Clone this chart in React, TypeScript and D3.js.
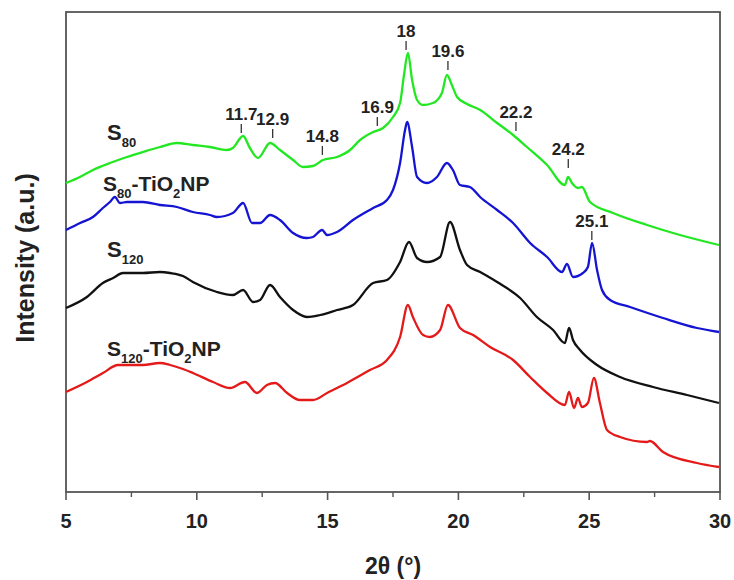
import React from "react";
import * as d3 from "d3";

// 2theta (deg) and intensity (a.u.)
const s80Theta = [5.0, 5.53, 6.03, 6.68, 7.33, 7.94, 8.59, 9.24, 9.85, 10.5, 11.15, 11.38, 11.77, 12.03, 12.34, 12.8, 13.18, 13.68, 14.06, 14.44, 14.82, 15.36, 15.86, 16.24, 16.74, 17.12, 17.5, 17.77, 17.92, 18.07, 18.23, 18.42, 18.65, 19.03, 19.37, 19.56, 19.75, 19.95, 20.33, 20.83, 21.48, 22.09, 22.62, 23.39, 24.07, 24.19, 24.34, 24.57, 24.72, 25.03, 25.91, 27.21, 28.47, 29.96];
const s80Int = [309, 315, 322, 329, 335, 340, 345, 349, 347, 345, 342, 344, 356, 344, 334, 349, 342, 332, 325, 326, 332, 335, 342, 352, 360, 364, 375, 389, 417, 439, 412, 392, 387, 389, 399, 417, 407, 395, 388, 382, 369, 357, 345, 327, 307, 315, 309, 304, 305, 290, 279, 267, 257, 247];

const s80TiTheta = [5.0, 5.54, 6.03, 6.41, 6.68, 6.87, 7.06, 7.33, 7.94, 8.59, 9.24, 9.85, 10.5, 10.77, 11.38, 11.77, 12.11, 12.42, 12.8, 13.18, 13.68, 14.21, 14.44, 14.79, 14.98, 15.36, 15.97, 16.74, 17.27, 17.5, 17.77, 17.96, 18.04, 18.23, 18.42, 18.8, 19.18, 19.56, 19.79, 20.06, 20.44, 20.83, 21.48, 22.09, 22.74, 23.39, 23.96, 24.15, 24.38, 24.76, 24.95, 25.11, 25.3, 25.49, 25.8, 26.56, 27.82, 29.12, 29.96];
const s80TiInt = [262, 269, 275, 284, 290, 295, 289, 290, 290, 287, 285, 280, 277, 275, 279, 289, 269, 269, 277, 272, 259, 254, 255, 262, 257, 260, 272, 284, 292, 302, 329, 362, 370, 345, 315, 309, 315, 329, 322, 307, 305, 295, 282, 269, 249, 235, 220, 228, 215, 219, 225, 249, 222, 202, 192, 185, 174, 164, 160];

const s120Theta = [5.0, 5.8, 6.41, 6.8, 7.18, 7.94, 8.59, 8.98, 9.47, 9.85, 10.77, 11.38, 11.77, 12.15, 12.42, 12.8, 13.18, 13.68, 14.21, 14.71, 15.36, 15.97, 16.74, 17.27, 17.77, 18.11, 18.42, 18.8, 19.3, 19.68, 20.06, 20.33, 20.83, 21.48, 22.36, 23.0, 23.62, 24.07, 24.23, 24.38, 24.65, 25.3, 26.18, 27.44, 28.74, 29.96];
const s120Int = [184, 195, 209, 214, 219, 219, 220, 219, 216, 210, 200, 197, 202, 190, 192, 207, 195, 182, 175, 177, 182, 187, 209, 212, 230, 250, 234, 230, 235, 270, 242, 227, 220, 210, 194, 175, 162, 149, 164, 152, 142, 127, 115, 105, 97, 89];

const s120TiTheta = [5.0, 5.8, 6.41, 6.99, 7.94, 8.59, 8.98, 9.47, 9.85, 10.62, 11.27, 11.84, 12.3, 12.68, 12.99, 13.45, 13.94, 14.44, 14.98, 15.74, 16.62, 17.27, 17.77, 18.07, 18.26, 18.65, 18.91, 19.3, 19.6, 20.06, 20.56, 21.21, 22.09, 22.74, 23.39, 24.07, 24.23, 24.42, 24.57, 24.72, 24.95, 25.18, 25.41, 25.68, 26.18, 27.21, 27.32, 27.82, 29.12, 29.96];
const s120TiInt = [100, 110, 119, 127, 127, 129, 127, 123, 119, 110, 104, 110, 99, 107, 109, 99, 92, 92, 99, 109, 122, 132, 155, 187, 175, 157, 155, 162, 187, 164, 157, 145, 132, 115, 99, 87, 100, 84, 94, 85, 89, 114, 89, 62, 55, 50, 51, 40, 29, 25];

const seriesColors = ["#22e822", "#1414d2", "#111111", "#e41a1a"];

// peak annotations: label, intensity where the marker line starts
const peakLabels = ["11.7", "12.9", "14.8", "16.9", "18", "19.6", "22.2", "24.2", "25.1"];
const peakBase = [357, 352, 335, 364, 440, 420, 359, 322, 250];

const xTicks = [5, 10, 15, 20, 25, 30];
const xMinorTicks = [7.5, 12.5, 17.5, 22.5, 27.5];

const width = 734;
const height = 580;
const font = "Arial, 'Liberation Sans', Helvetica, sans-serif";

export default function App() {
  const left = 66, right = 720, top = 12, bottom = 492;
  const x = d3.scaleLinear().domain([5, 30]).range([left, right]);
  const y = d3.scaleLinear().domain([0, 480]).range([bottom, top]);

  const series = [
    { t: s80Theta, v: s80Int },
    { t: s80TiTheta, v: s80TiInt },
    { t: s120Theta, v: s120Int },
    { t: s120TiTheta, v: s120TiInt },
  ];

  const line = d3
    .line<[number, number]>()
    .x((d) => x(d[0]))
    .y((d) => y(d[1]))
    .curve(d3.curveMonotoneX);

  return (
    <svg
      width={width}
      height={height}
      style={{ position: "absolute", left: 0, top: 0, background: "#fff" }}
      fontFamily={font}
      fontWeight="bold"
    >
      {/* frame */}
      <rect x={left} y={top} width={right - left} height={bottom - top} fill="none" stroke="#555" strokeWidth={1.8} />

      {series.map((s, i) => (
        <path
          key={i}
          d={line(s.t.map((t, j) => [t, s.v[j]]) as [number, number][]) || ""}
          fill="none"
          stroke={seriesColors[i]}
          strokeWidth={2.3}
          strokeLinejoin="round"
        />
      ))}

      {/* peak markers */}
      {peakLabels.map((lab, i) => {
        const px = x(+lab);
        const yb = y(peakBase[i]) - 2;
        return (
          <g key={lab}>
            <line x1={px} x2={px} y1={yb} y2={yb - 9} stroke="#333" strokeWidth={1.3} />
            <text x={px} y={yb - 13} textAnchor="middle" fontSize={17} fill="#222">
              {lab}
            </text>
          </g>
        );
      })}

      {/* series labels */}
      <text x={107} y={140} fontSize={22} fill="#222">
        S<tspan fontSize={13} dy={7}>80</tspan>
      </text>
      <text x={103} y={191} fontSize={21} fill="#222">
        S<tspan fontSize={13} dy={7}>80</tspan>
        <tspan dy={-7}>-TiO</tspan>
        <tspan fontSize={13} dy={7}>2</tspan>
        <tspan dy={-7}>NP</tspan>
      </text>
      <text x={107} y={257} fontSize={22} fill="#222">
        S<tspan fontSize={13} dy={7}>120</tspan>
      </text>
      <text x={107} y={356} fontSize={21} fill="#222">
        S<tspan fontSize={13} dy={7}>120</tspan>
        <tspan dy={-7}>-TiO</tspan>
        <tspan fontSize={13} dy={7}>2</tspan>
        <tspan dy={-7}>NP</tspan>
      </text>

      {/* x axis */}
      {xTicks.map((t) => (
        <g key={t}>
          <line x1={x(t)} x2={x(t)} y1={bottom} y2={bottom + 8} stroke="#555" strokeWidth={1.6} />
          <text x={x(t)} y={bottom + 36} textAnchor="middle" fontSize={20} fill="#222">
            {t}
          </text>
        </g>
      ))}
      {xMinorTicks.map((t) => (
        <line key={t} x1={x(t)} x2={x(t)} y1={bottom} y2={bottom + 5} stroke="#555" strokeWidth={1.4} />
      ))}
      <text x={(left + right) / 2} y={574} textAnchor="middle" fontSize={23} fill="#222">
        2θ (°)
      </text>
      <text
        transform={`translate(34,${(top + bottom) / 2 + 6}) rotate(-90)`}
        textAnchor="middle"
        fontSize={25}
        fill="#222"
      >
        Intensity (a.u.)
      </text>
    </svg>
  );
}
